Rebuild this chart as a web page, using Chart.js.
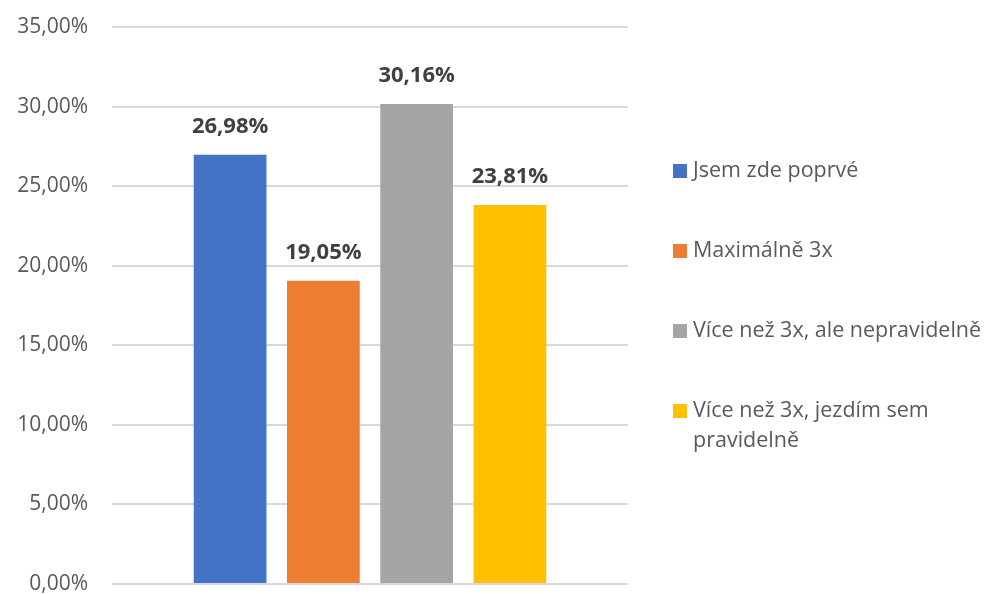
<!DOCTYPE html>
<html>
<head>
<meta charset="utf-8">
<script src="https://cdn.jsdelivr.net/npm/chart.js@4"></script>
<style>
  body { margin: 0; background: #fff; }
</style>
</head>
<body>
<canvas id="myChart" width="998" height="594"></canvas>
<script>
// Survey answers and their shares (in %)
const answers = ['Jsem zde poprvé', 'Maximálně 3x', 'Více než 3x, ale nepravidelně', 'Více než 3x, jezdím sem pravidelně'];
const shares = [26.98, 19.05, 30.16, 23.81];
const colors = ['#4472C4', '#ED7D31', '#A5A5A5', '#FFC000'];
const yTicks = [0, 5, 10, 15, 20, 25, 30, 35];

const FONT = '"Open Sans", "Noto Sans", sans-serif';

function pct(v) {
  return v.toFixed(2).replace('.', ',') + '%';
}

// Bold value label above each bar
const valueLabels = {
  id: 'valueLabels',
  afterDatasetsDraw(chart) {
    const ctx = chart.ctx;
    ctx.save();
    ctx.font = 'bold 22px ' + FONT;
    ctx.fillStyle = '#404040';
    ctx.textAlign = 'center';
    ctx.textBaseline = 'middle';
    chart.data.datasets.forEach((ds, i) => {
      const bar = chart.getDatasetMeta(i).data[0];
      ctx.fillText(pct(ds.data[0]), bar.x, bar.y - 28);
    });
    ctx.restore();
  }
};

// Legend on the right, with word wrapping for long answers
const sideLegend = {
  id: 'sideLegend',
  afterDraw(chart) {
    const ctx = chart.ctx;
    const boxX = 673, textX = 693, box = 14;
    const maxW = chart.width - textX;
    let y = 171;
    ctx.save();
    ctx.font = '21.5px ' + FONT;
    ctx.textBaseline = 'middle';
    chart.data.datasets.forEach(ds => {
      // wrap the label into lines
      const words = ds.label.split(' ');
      const lines = [];
      let line = '';
      words.forEach(w => {
        const test = line ? line + ' ' + w : w;
        if (ctx.measureText(test).width > maxW && line) {
          lines.push(line);
          line = w;
        } else {
          line = test;
        }
      });
      lines.push(line);

      ctx.fillStyle = ds.backgroundColor;
      ctx.fillRect(boxX, y - box / 2, box, box);
      ctx.fillStyle = '#595959';
      lines.forEach((l, k) => ctx.fillText(l, textX, y + k * 30));
      y += 80;
    });
    ctx.restore();
  }
};

new Chart(document.getElementById('myChart'), {
  type: 'bar',
  data: {
    labels: [''],
    datasets: answers.map((a, i) => ({
      label: a,
      data: [shares[i]],
      backgroundColor: colors[i],
      barPercentage: 0.78,
      categoryPercentage: 0.723
    }))
  },
  options: {
    responsive: false,
    animation: false,
    layout: {
      padding: { top: 27, bottom: 10, right: 370, left: 0 }
    },
    plugins: {
      legend: { display: false },
      tooltip: { enabled: false }
    },
    scales: {
      x: { display: false },
      y: {
        min: 0,
        max: 35,
        afterBuildTicks: scale => {
          scale.ticks = yTicks.map(v => ({ value: v }));
        },
        afterFit: scale => {
          scale.width = 112;
          scale.paddingTop = 0;
          scale.paddingBottom = 0;
        },
        border: { display: false },
        grid: {
          color: '#D9D9D9',
          lineWidth: 2,
          drawTicks: false
        },
        ticks: {
          padding: 24,
          color: '#595959',
          font: { family: FONT, size: 21 },
          callback: v => pct(v)
        }
      }
    }
  },
  plugins: [valueLabels, sideLegend]
});
</script>
</body>
</html>
